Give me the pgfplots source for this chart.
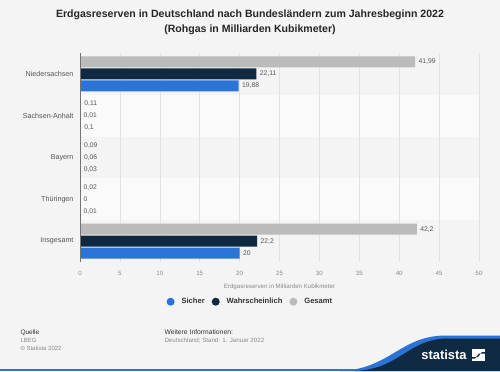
\documentclass[border=0pt]{standalone}
\usepackage{pgfplots}
\pgfplotsset{compat=1.18}
\usepackage{fontspec}
\setmainfont{Liberation Sans}
\definecolor{bg}{HTML}{F4F4F4}
\definecolor{band}{HTML}{FAFAFA}
\definecolor{sblue}{HTML}{2A74D8}
\definecolor{snavy}{HTML}{0F2940}
\definecolor{sgray}{HTML}{BBBBBB}
\definecolor{gridc}{HTML}{E2E2E2}
\definecolor{txtgray}{HTML}{555555}
\definecolor{lightgray}{HTML}{8A8A8A}
\definecolor{logonavy}{HTML}{0F2A43}
\begin{document}
\begin{tikzpicture}[x=1bp,y=1bp]
\useasboundingbox (0,0) rectangle (500,371);
\fill[bg] (0,0) rectangle (500,371);
% alternating bands
\fill[band] (80,276.2) rectangle (479,234.4);
\fill[band] (80,192.6) rectangle (479,150.8);
% title
\node[font=\bfseries\fontsize{10.6}{15}\selectfont, text=black!85, align=center] at (250,349) {Erdgasreserven in Deutschland nach Bundesländern zum Jahresbeginn 2022\\(Rohgas in Milliarden Kubikmeter)};
\begin{axis}[
  at={(80bp,109bp)}, anchor=south west,
  scale only axis, width=399bp, height=209bp,
  xbar, bar width=11bp,
  xmin=0, xmax=50, ymin=-0.5, ymax=4.5,
  ytick={0,1,2,3,4},
  yticklabels={Insgesamt,Thüringen,Bayern,Sachsen-Anhalt,Niedersachsen},
  xtick={0,5,...,50},
  xmajorgrids, grid style={draw=gridc, line width=0.6pt},
  axis line style={draw=none},
  major tick length=0pt,
  /pgf/number format/assume math mode=true,
  x tick label style={font=\fontsize{6.2}{7}\selectfont, text=lightgray, yshift=-6bp},
  y tick label style={font=\fontsize{7.2}{8}\selectfont, text=txtgray, xshift=-3bp},
  xlabel={Erdgasreserven in Milliarden Kubikmeter},
  xlabel style={font=\fontsize{6.2}{7}\selectfont, text=lightgray, yshift=-1bp},
  nodes near coords,
  point meta=explicit symbolic,
  every node near coord/.append style={font=\fontsize{6.8}{8}\selectfont, text=txtgray, anchor=west, xshift=0bp},
  legend style={at={(0.427,-0.19)}, anchor=center, draw=none, fill=none,
     legend columns=-1, font=\bfseries\fontsize{7.6}{9}\selectfont, text=black!80,
     /tikz/every even column/.append style={column sep=5bp},
     /tikz/every odd column/.append style={column sep=5bp}},
  every axis plot/.append style={legend image code/.code={\path[draw=none,fill=none] (-4bp,-4bp) rectangle (0bp,4bp); \fill[##1] (0bp,0bp) circle (4bp);}},
]
\addplot[fill=sblue, draw=none, bar shift=-12bp] table[x=v, y=c, meta=l] {
c v l
4 19.88 19,88
3 0.1 0,1
2 0.03 0,03
1 0.01 0,01
0 20 20
};
\addlegendentry{Sicher}
\addplot[fill=snavy, draw=none, bar shift=0bp] table[x=v, y=c, meta=l] {
c v l
4 22.11 22,11
3 0.01 0,01
2 0.06 0,06
1 0 0
0 22.2 22,2
};
\addlegendentry{Wahrscheinlich}
\addplot[fill=sgray, draw=none, bar shift=12bp] table[x=v, y=c, meta=l] {
c v l
4 41.99 41,99
3 0.11 0,11
2 0.09 0,09
1 0.02 0,02
0 42.2 42,2
};
\addlegendentry{Gesamt}
\draw[black!55, line width=0.6pt] (axis cs:0,-0.5) -- (axis cs:0,4.5);
\end{axis}
% footer
\node[anchor=base west, font=\fontsize{6.5}{7}\selectfont, text=black!80] at (17,37) {Quelle};
\node[anchor=base west, font=\fontsize{6}{7}\selectfont, text=lightgray] at (17,29) {LBEG};
\node[anchor=base west, font=\fontsize{6}{7}\selectfont, text=lightgray] at (17,21) {\textcopyright\ Statista 2022};
\node[anchor=base west, font=\fontsize{6.8}{7}\selectfont, text=black!80] at (161,37) {Weitere Informationen:};
\node[anchor=base west, font=\fontsize{6.2}{7}\selectfont, text=lightgray] at (161,29) {Deutschland; Stand: 1. Januar 2022};
% logo wave
\fill[sblue] (0,0) rectangle (500,2.5);
\fill[sblue] (340,0) .. controls (390,2) and (400,35) .. (445,35.5) -- (500,35.5) -- (500,0) -- cycle;
\fill[logonavy] (355,0) .. controls (400,2) and (408,32) .. (447,32.5) -- (500,32.5) -- (500,0) -- cycle;
\node[font=\bfseries\fontsize{13}{14}\selectfont, text=white] at (444,16) {statista};
\fill[white] (472,10) rectangle (485,22);
\fill[logonavy] (472,14) -- (478,14) -- (482,19) -- (485,19) -- (485,17.5) -- (479,17.5) -- (475,12.5) -- (472,12.5) -- cycle;
\end{tikzpicture}
\end{document}
